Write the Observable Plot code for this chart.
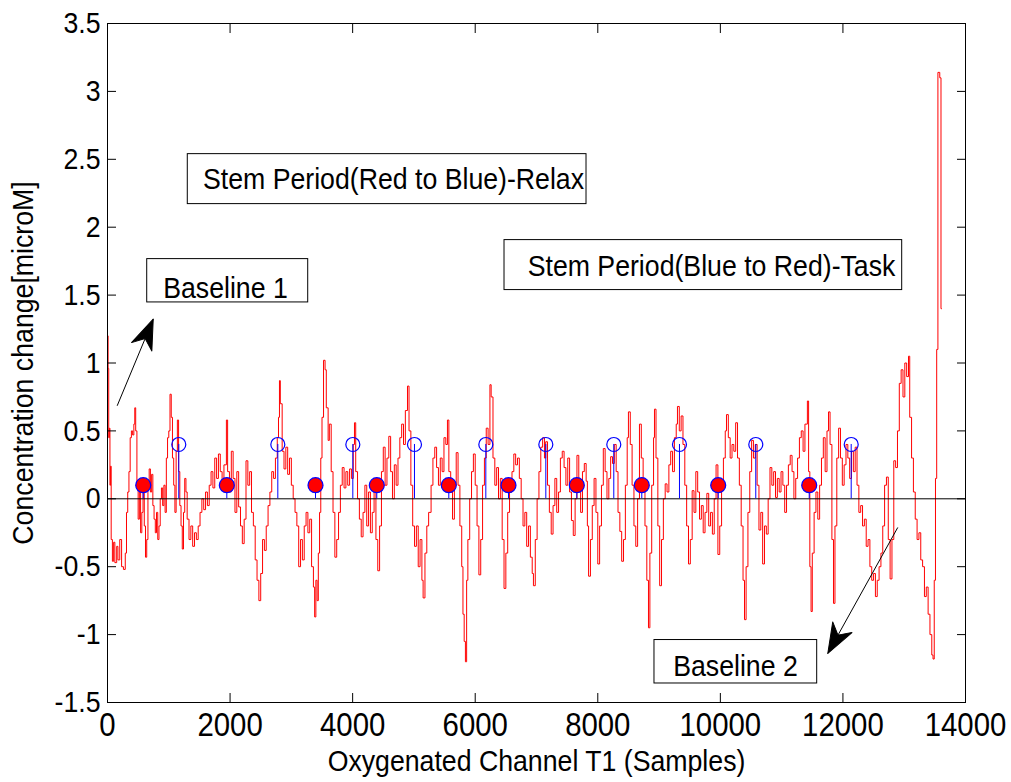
<!DOCTYPE html>
<html><head><meta charset="utf-8">
<script src="https://cdn.jsdelivr.net/npm/d3@7"></script>
<script src="https://cdn.jsdelivr.net/npm/@observablehq/plot@0.6"></script>
<style>
body{margin:0;background:#fff;}
#chart svg{display:block;}
</style></head><body><div id="chart"></div>
<script>
// Oxygenated channel T1 signal: [sample, concentration change (microM)]
const signal = [[0,1.2],[10,0.96],[20,0.45],[30,0.52],[40,0.1],[50,0.24],[60,-0.3],[80,-0.46],[100,-0.32],[120,-0.47],[150,-0.35],[170,-0.45],[200,-0.3],[230,-0.5],[260,-0.52],[290,-0.4],[310,-0.1],[330,0.05],[350,0.2],[370,0.45],[390,0.5],[410,0.47],[430,0.55],[445,0.67],[460,0.5],[480,0.1],[500,-0.15],[520,0.05],[540,-0.25],[560,-0.1],[580,0.05],[600,-0.2],[620,-0.43],[640,-0.3],[660,0.1],[680,0.22],[700,0.05],[720,0.18],[740,-0.05],[760,-0.15],[780,-0.25],[800,-0.1],[820,-0.3],[840,-0.2],[860,0.0],[880,0.08],[900,-0.05],[920,0.1],[940,-0.1],[960,0.3],[980,0.45],[1000,0.5],[1020,0.77],[1040,0.6],[1060,0.3],[1080,0.1],[1100,-0.1],[1120,0.35],[1140,0.58],[1160,0.2],[1180,-0.05],[1200,-0.2],[1220,-0.37],[1240,-0.1],[1260,0.15],[1280,0.05],[1300,-0.15],[1330,-0.3],[1360,-0.2],[1390,-0.35],[1420,-0.25],[1450,-0.3],[1480,-0.2],[1510,-0.1],[1540,0.0],[1570,-0.08],[1600,0.05],[1630,-0.05],[1660,0.1],[1690,0.2],[1720,0.08],[1750,0.3],[1780,0.15],[1810,0.33],[1840,0.2],[1870,0.1],[1900,0.25],[1940,0.58],[1960,0.2],[1990,0.05],[2020,0.35],[2050,0.15],[2080,-0.1],[2110,0.2],[2140,-0.06],[2170,-0.2],[2200,-0.33],[2230,-0.15],[2260,0.28],[2290,0.1],[2320,0.2],[2350,-0.1],[2380,-0.2],[2410,-0.45],[2440,-0.6],[2470,-0.75],[2500,-0.55],[2530,-0.3],[2560,-0.38],[2590,-0.2],[2620,-0.05],[2650,0.05],[2680,0.2],[2710,0.15],[2740,0.3],[2770,0.45],[2790,0.6],[2806,0.87],[2820,0.7],[2850,0.35],[2880,0.22],[2910,0.38],[2940,0.18],[2970,0.3],[3000,0.1],[3030,0.0],[3060,-0.1],[3090,-0.2],[3120,-0.5],[3150,-0.3],[3180,-0.45],[3210,-0.2],[3240,-0.1],[3270,-0.25],[3300,-0.15],[3330,-0.5],[3360,-0.65],[3380,-0.87],[3400,-0.6],[3420,-0.75],[3440,-0.4],[3460,-0.1],[3480,0.3],[3500,0.6],[3525,1.02],[3550,0.95],[3570,0.67],[3600,0.43],[3620,0.55],[3650,0.2],[3680,-0.1],[3710,-0.43],[3740,-0.3],[3770,-0.1],[3800,0.1],[3830,0.23],[3860,0.08],[3890,0.2],[3920,0.1],[3950,0.22],[3980,0.15],[4010,0.4],[4030,0.56],[4050,0.2],[4080,0.0],[4110,-0.15],[4140,-0.28],[4170,-0.1],[4200,0.1],[4230,-0.2],[4260,0.05],[4290,-0.25],[4320,-0.1],[4350,0.1],[4380,-0.3],[4410,-0.53],[4440,-0.2],[4470,0.2],[4500,0.38],[4530,0.1],[4560,0.3],[4590,0.46],[4620,0.2],[4650,0.0],[4680,0.25],[4710,0.1],[4740,0.3],[4770,0.45],[4800,0.55],[4830,0.4],[4860,0.65],[4895,0.83],[4920,0.5],[4950,0.1],[4980,-0.2],[5010,-0.35],[5040,-0.2],[5070,-0.5],[5100,-0.3],[5130,-0.6],[5150,-0.73],[5180,-0.4],[5210,-0.2],[5240,-0.1],[5280,0.1],[5310,0.3],[5340,0.38],[5370,0.23],[5400,0.1],[5430,0.3],[5460,0.2],[5490,0.45],[5520,0.4],[5547,0.58],[5570,0.2],[5600,0.05],[5630,-0.15],[5660,0.1],[5690,0.34],[5720,0.1],[5750,-0.2],[5780,-0.5],[5800,-0.85],[5820,-1.05],[5840,-1.2],[5860,-0.6],[5880,-0.3],[5910,0.0],[5940,0.2],[5970,0.33],[6000,0.1],[6030,-0.2],[6060,-0.56],[6090,-0.3],[6120,0.1],[6150,0.3],[6180,0.52],[6210,0.4],[6240,0.84],[6260,0.75],[6290,0.3],[6320,0.1],[6350,0.23],[6380,0.0],[6410,0.15],[6440,-0.3],[6470,-0.66],[6500,-0.4],[6530,-0.1],[6560,0.05],[6600,0.2],[6630,0.33],[6660,0.25],[6690,0.3],[6720,0.15],[6750,0.0],[6780,-0.2],[6810,-0.1],[6840,-0.35],[6870,-0.2],[6900,-0.43],[6930,-0.55],[6950,-0.64],[6980,-0.3],[7010,0.0],[7040,0.2],[7070,0.38],[7100,0.45],[7130,0.3],[7150,0.42],[7180,0.1],[7210,-0.1],[7240,-0.26],[7270,-0.05],[7300,0.15],[7330,-0.1],[7360,0.05],[7390,0.3],[7420,0.35],[7450,0.23],[7480,0.1],[7510,0.3],[7540,0.05],[7570,-0.16],[7600,-0.27],[7630,0.0],[7660,0.32],[7690,0.1],[7720,-0.1],[7750,0.2],[7780,0.26],[7810,0.13],[7830,-0.2],[7850,-0.57],[7880,-0.3],[7910,-0.05],[7940,0.15],[7970,-0.1],[8000,-0.48],[8030,-0.2],[8060,0.1],[8090,0.37],[8120,0.2],[8150,0.0],[8180,0.15],[8210,0.31],[8240,0.26],[8270,0.4],[8300,0.2],[8330,-0.1],[8360,-0.24],[8390,-0.46],[8420,-0.3],[8450,0.1],[8480,0.45],[8500,0.64],[8530,0.4],[8560,0.1],[8590,-0.2],[8620,-0.35],[8650,0.0],[8680,0.55],[8710,0.3],[8740,0.1],[8770,-0.2],[8800,-0.6],[8827,-0.95],[8850,-0.4],[8880,0.1],[8910,0.45],[8925,0.66],[8950,0.3],[8980,-0.2],[9010,-0.64],[9040,-0.3],[9070,0.0],[9100,0.11],[9130,0.05],[9160,0.25],[9190,0.35],[9220,0.2],[9250,0.45],[9280,0.55],[9300,0.68],[9330,0.5],[9360,0.61],[9390,0.4],[9420,0.1],[9450,-0.2],[9480,-0.48],[9510,-0.3],[9540,0.06],[9570,-0.1],[9600,0.2],[9630,0.05],[9660,-0.15],[9690,-0.05],[9720,-0.25],[9750,-0.1],[9780,0.04],[9810,-0.2],[9840,-0.1],[9870,-0.26],[9900,0.0],[9930,0.25],[9960,-0.41],[9990,-0.2],[10020,0.1],[10050,0.3],[10080,0.5],[10100,0.62],[10130,0.45],[10160,0.3],[10190,0.4],[10220,0.35],[10250,0.56],[10280,0.3],[10310,0.1],[10340,-0.2],[10370,-0.6],[10394,-0.89],[10420,-0.5],[10450,-0.1],[10480,0.2],[10510,0.43],[10540,0.3],[10570,0.4],[10600,0.1],[10630,-0.23],[10660,-0.1],[10690,-0.48],[10720,-0.2],[10750,-0.26],[10780,0.0],[10810,0.23],[10840,0.1],[10870,0.2],[10900,0.01],[10930,0.15],[10960,0.05],[10990,0.2],[11020,0.1],[11050,-0.1],[11080,0.1],[11110,0.25],[11140,0.32],[11170,0.2],[11200,0.0],[11230,0.15],[11260,0.3],[11290,0.45],[11320,0.5],[11350,0.35],[11380,0.55],[11420,0.72],[11440,0.2],[11460,-0.5],[11480,-0.83],[11500,-0.4],[11530,-0.1],[11560,0.05],[11590,-0.15],[11620,0.1],[11650,0.3],[11680,0.45],[11710,0.2],[11740,0.5],[11765,0.64],[11790,0.4],[11820,-0.3],[11846,-0.77],[11870,-0.2],[11900,0.3],[11930,0.52],[11960,0.3],[11990,0.1],[12020,0.25],[12050,0.4],[12080,0.3],[12110,0.15],[12140,0.35],[12170,0.2],[12200,0.38],[12230,0.1],[12260,-0.1],[12290,-0.05],[12320,-0.2],[12350,-0.15],[12380,-0.35],[12410,-0.3],[12440,-0.5],[12470,-0.6],[12500,-0.55],[12530,-0.72],[12560,-0.6],[12590,-0.5],[12620,-0.4],[12650,-0.2],[12680,0.1],[12710,0.16],[12740,-0.3],[12770,-0.59],[12800,-0.3],[12830,0.28],[12860,0.23],[12890,0.5],[12920,0.85],[12950,0.95],[12980,0.75],[13010,1.0],[13040,0.9],[13070,1.05],[13090,0.6],[13120,0.3],[13150,0.05],[13180,-0.15],[13210,-0.3],[13240,-0.25],[13270,-0.45],[13300,-0.5],[13330,-0.72],[13360,-0.65],[13390,-0.85],[13420,-1.0],[13450,-1.15],[13470,-1.18],[13490,-0.6],[13510,0.15],[13530,1.1],[13550,3.14],[13580,3.1],[13600,1.4],[13610,1.4]];

// Stem markers
const relaxStemSamples = [583, 1947, 3394, 4394, 5569, 6543, 7658, 8718, 9965, 11450];
const relaxStemValue = 0.1;
const taskStemSamples = [1163, 2779, 4003, 5009, 6173, 7152, 8261, 9333, 10578, 12135];
const taskStemValue = 0.4;

// Axes
const xTicks = [0, 2000, 4000, 6000, 8000, 10000, 12000, 14000];
const yTicks = [-1.5, -1, -0.5, 0, 0.5, 1, 1.5, 2, 2.5, 3, 3.5];
const xTitle = "Oxygenated Channel T1 (Samples)";
const yTitle = "Concentration change[microM]";

// Annotation text boxes (data coordinates)
const boxLabels = ["Baseline 1", "Stem Period(Red to Blue)-Relax", "Stem Period(Blue to Red)-Task", "Baseline 2"];
const boxLeft   = [648, 1310, 6478, 8925];
const boxRight  = [3275, 7816, 12967, 11580];
const boxBottom = [1.446, 2.170, 1.537, -1.360];
const boxTop    = [1.765, 2.538, 1.905, -1.040];
const labelX    = [1925, 4667, 9855, 10247];
const labelY    = [1.48, 2.283, 1.642, -1.303];

// Annotation arrows (tail -> tip, data coordinates)
const arrowTailX = [158, 12895];
const arrowTailY = [0.685, -0.211];
const arrowTipX  = [746, 11753];
const arrowTipY  = [1.323, -1.139];

const W = 1011, H = 782, mL = 107, mR = 46, mT = 23, mB = 80;
const xDomain = [0, 14000], yDomain = [-1.5, 3.5];
const font = "'Liberation Sans', Arial, Helvetica, sans-serif";
const FS = 30;          // font size
const FSX = 33;         // x tick label font size
const SQUEEZE = 0.89;   // horizontal glyph compression seen in the reference

const sig = signal.map(([s, v]) => ({s, v}));
const relax = relaxStemSamples.map(s => ({s, v: relaxStemValue}));
const task = taskStemSamples.map(s => ({s, v: taskStemValue}));
const boxes = boxLabels.map((label, i) => ({label, x1: boxLeft[i], x2: boxRight[i], y1: boxBottom[i], y2: boxTop[i], tx: labelX[i], ty: labelY[i]}));
const kx = (W - mL - mR) / (xDomain[1] - xDomain[0]);
const ky = (H - mT - mB) / (yDomain[1] - yDomain[0]);
const arrows = arrowTailX.map((x1, i) => {
  const dxp = (arrowTipX[i] - x1) * kx, dyp = (arrowTipY[i] - arrowTailY[i]) * ky;
  return {x1, y1: arrowTailY[i], x2: arrowTipX[i], y2: arrowTipY[i], angle: Math.atan2(dxp, dyp) * 180 / Math.PI};
});

const notchedHead = {draw(ctx, l, r) { ctx.moveTo(0, -l); ctx.lineTo(r, 0); ctx.lineTo(0, -l * 0.3); ctx.lineTo(-r, 0); ctx.closePath(); }};

function build(headShape) {
  return Plot.plot({
    width: W, height: H,
    marginLeft: mL, marginRight: mR, marginTop: mT, marginBottom: mB,
    style: {fontFamily: font, fontSize: FS + "px", background: "white", color: "black"},
    x: {domain: xDomain, label: null},
    y: {domain: yDomain, label: null},
    marks: [
      Plot.line(sig, {x: "s", y: "v", curve: "step-after", stroke: "#ff0000", strokeWidth: 1}),
      Plot.ruleY([0], {stroke: "black", strokeWidth: 1}),
      Plot.ruleX(task, {x: "s", y1: 0, y2: "v", stroke: "#0000ff", strokeWidth: 1}),
      Plot.ruleX(relax, {x: "s", y1: 0, y2: "v", stroke: "#0000ff", strokeWidth: 1}),
      Plot.dot(task, {x: "s", y: "v", r: 7, stroke: "#0000ff", fill: "none", strokeWidth: 1.2}),
      Plot.dot(relax, {x: "s", y: "v", r: 7.5, stroke: "#0000ff", fill: "#ff0000", strokeWidth: 1.2}),
      Plot.rect(boxes, {x1: "x1", x2: "x2", y1: "y1", y2: "y2", fill: "white", stroke: "black", strokeWidth: 1}),
      Plot.text(boxes, {x: "tx", y: "ty", text: "label", textAnchor: "middle", lineAnchor: "bottom", fontSize: FS, fill: "black"}),
      Plot.link(arrows, {x1: "x1", y1: "y1", x2: "x2", y2: "y2", stroke: "black", strokeWidth: 1}),
      Plot.vector(arrows, {x: "x2", y: "y2", rotate: "angle", length: 30, r: 11, anchor: "end", shape: headShape, fill: "black", stroke: "black", strokeWidth: 1}),
      Plot.frame({stroke: "black", strokeWidth: 1}),
      Plot.axisX({anchor: "bottom", ticks: xTicks, tickSize: 0, tickPadding: 10, tickFormat: d => String(d), label: null, fontSize: FSX, ariaLabel: "x-tick-labels"}),
      Plot.axisX({anchor: "bottom", ticks: xTicks, tickSize: -9, tickFormat: () => "", label: null}),
      Plot.axisX({anchor: "top", ticks: xTicks, tickSize: -9, tickFormat: () => "", label: null}),
      Plot.axisY({anchor: "left", ticks: yTicks, tickSize: 0, tickPadding: 7, tickFormat: d => String(d), label: null, fontSize: FS}),
      Plot.axisY({anchor: "left", ticks: yTicks, tickSize: -9, tickFormat: () => "", label: null}),
      Plot.axisY({anchor: "right", ticks: yTicks, tickSize: -9, tickFormat: () => "", label: null}),
      Plot.text([xTitle], {frameAnchor: "bottom", dy: 68, lineAnchor: "bottom", textAnchor: "middle", fontSize: FS, fill: "black"}),
      Plot.text([yTitle], {frameAnchor: "left", dx: -84, rotate: -90, lineAnchor: "middle", textAnchor: "middle", fontSize: FS, fill: "black"})
    ]
  });
}

let chart;
try { chart = build(notchedHead); } catch (e) { chart = build("spike"); }
document.getElementById("chart").append(chart);

// Larger x tick labels (as in the reference)
const xTickSet = new Set(xTicks.map(String));
chart.querySelectorAll("text").forEach(t => {
  if (xTickSet.has(t.textContent) && !yTicks.map(String).includes(t.textContent) || ["2000","4000","6000","8000","10000","12000","14000"].includes(t.textContent)) {
    t.style.fontSize = FSX + "px";
  }
});
// the "0" label on the x axis: pick the text whose bbox sits below the frame
chart.querySelectorAll("text").forEach(t => {
  if (t.textContent === "0") {
    const b = t.getBoundingClientRect();
    if (b.top > H - mB) t.style.fontSize = FSX + "px";
  }
});

// Condense glyphs horizontally around each text's own anchor point
chart.querySelectorAll("text").forEach(t => {
  if (!t.textContent) return;
  const b = t.getBBox();
  const anchor = getComputedStyle(t).textAnchor;
  const px = anchor === "middle" ? b.x + b.width / 2 : anchor === "end" ? b.x + b.width : b.x;
  const tr = t.getAttribute("transform") || "";
  t.setAttribute("transform", `${tr} translate(${px},0) scale(${SQUEEZE},1) translate(${-px},0)`.trim());
});
</script>
</body></html>
